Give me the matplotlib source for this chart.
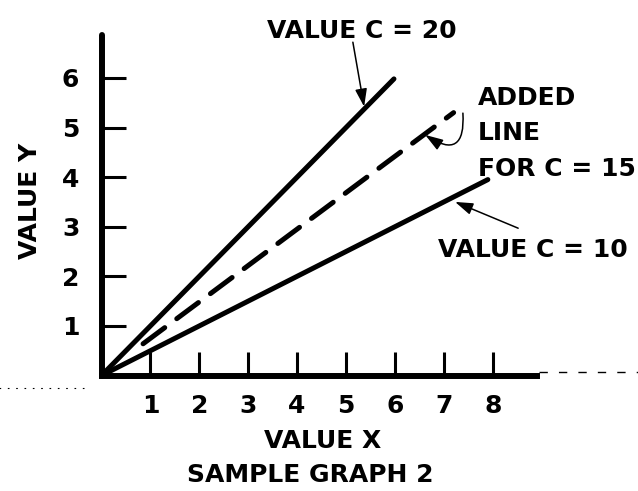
import matplotlib
matplotlib.use("Agg")
import matplotlib.pyplot as plt

plt.rcParams['font.family'] = ['DejaVu Sans']
plt.rcParams['font.weight'] = 'bold'
plt.rcParams['axes.labelweight'] = 'bold'

# Axis ticks
x_ticks = [1, 2, 3, 4, 5, 6, 7, 8]
y_ticks = [1, 2, 3, 4, 5, 6]

# Lines of constant C (start and end points)
c20_x = [0, 5.98]
c20_y = [0, 5.98]
c10_x = [0, 7.9]
c10_y = [0, 3.95]
c15_x = [0.85, 7.2]
c15_y = [0.64, 5.3]

fig = plt.figure(figsize=(6.38, 4.91), dpi=100)
ax = fig.add_axes([0.1591, 0.2352, 0.6822, 0.6930])
ax.set_xlim(0, 8.9)
ax.set_ylim(0, 6.86)

for side in ('top', 'right'):
    ax.spines[side].set_visible(False)
ax.spines['left'].set_linewidth(4.3)
ax.spines['bottom'].set_linewidth(4.3)
ax.spines['left'].set_capstyle('round')
ax.spines['bottom'].set_capstyle('projecting')

ax.set_xticks(x_ticks)
ax.set_yticks(y_ticks)
ax.tick_params(direction='in', length=17, width=2.2, labelsize=18, colors='black')
ax.tick_params(axis='x', pad=13)
ax.tick_params(axis='y', pad=16)

# Lines
ax.plot(c20_x, c20_y, color='black', lw=3.6, solid_capstyle='round', clip_on=False)
ax.plot(c10_x, c10_y, color='black', lw=3.6, solid_capstyle='round', clip_on=False)
ax.plot(c15_x, c15_y, color='black', lw=3.6, dashes=(5.4, 3.0),
        dash_capstyle='round', clip_on=False)

arrow = dict(arrowstyle='-|>,head_length=0.9,head_width=0.3', color='black',
             lw=1.1, shrinkA=0, shrinkB=0, mutation_scale=12)

# Labels with pointer arrows
ax.text(3.38, 6.80, 'VALUE C = 20', fontsize=18, ha='left', va='baseline')
ax.annotate('', xy=(5.37, 5.42), xytext=(5.14, 6.72), arrowprops=arrow,
            annotation_clip=False)

ax.text(6.88, 2.39, 'VALUE C = 10', fontsize=18, ha='left', va='baseline')
ax.annotate('', xy=(7.23, 3.5), xytext=(8.52, 2.97), arrowprops=arrow,
            annotation_clip=False)

ax.text(7.70, 5.45, 'ADDED', fontsize=18, ha='left', va='baseline')
ax.text(7.70, 4.75, 'LINE', fontsize=18, ha='left', va='baseline')
ax.text(7.70, 4.02, 'FOR C = 15', fontsize=18, ha='left', va='baseline')
curl = dict(arrow, connectionstyle='arc3,rad=-1.0')
ax.annotate('', xy=(6.62, 4.85), xytext=(7.39, 5.29), arrowprops=curl,
            annotation_clip=False)

ax.set_xlabel('VALUE X', fontsize=18, va='baseline')
ax.xaxis.set_label_coords(0.507, -0.213)
ax.set_ylabel('VALUE Y', fontsize=18, va='baseline')
ax.yaxis.set_label_coords(-0.148, 0.513)

fig.text(0.487, 0.0183, 'SAMPLE GRAPH 2', fontsize=18, ha='center', va='baseline')

# Faint rule continuing the baseline across the page
ax.plot([8.95, 11.2], [0.07, 0.07], color='black', lw=1.0, dashes=(6, 8),
        clip_on=False)
ax.plot([-2.1, -0.3], [-0.25, -0.25], color='black', lw=0.8, dashes=(1.5, 6),
        clip_on=False)

fig.savefig('out.png', dpi=100)
